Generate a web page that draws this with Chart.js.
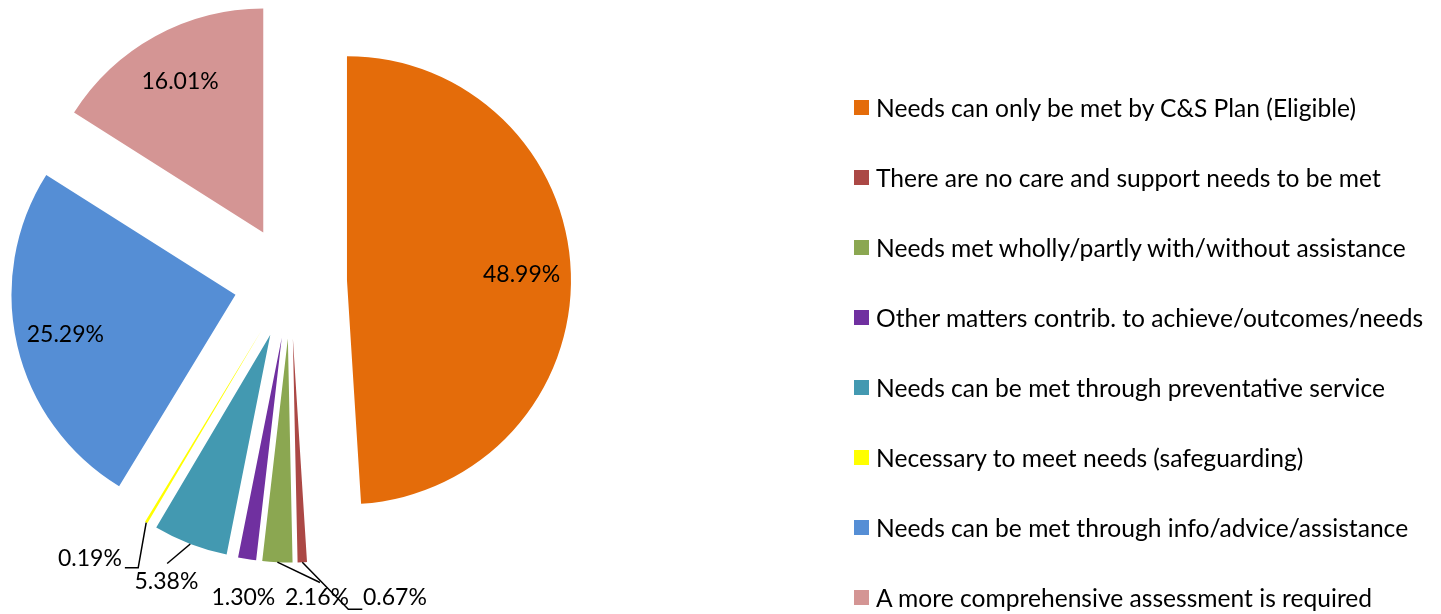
<!DOCTYPE html>
<html>
<head>
<meta charset="utf-8">
<script src="https://cdn.jsdelivr.net/npm/chart.js@4/dist/chart.umd.min.js"></script>
<style>
  html, body { margin: 0; padding: 0; background: #fff; }
  #wrap { position: relative; width: 1441px; height: 614px; overflow: hidden; }
  #assessChart { position: absolute; left: 0; top: 0; }
  #legend-box { position: absolute; left: 854px; top: 72px; font-family: Lato, sans-serif; font-size: 24.6px; color: #000; }
  .legend-item { height: 70px; display: flex; align-items: center; white-space: nowrap; }
  .legend-item span { width: 15px; height: 15px; display: inline-block; margin-right: 7px; }
</style>
</head>
<body>
<div id="wrap">
  <canvas id="assessChart" width="1441" height="614"></canvas>
  <div id="legend-box"></div>
</div>
<script>
// Data
const OUTCOME_LABELS = [
  'Needs can only be met by C&S Plan (Eligible)',
  'There are no care and support needs to be met',
  'Needs met wholly/partly with/without assistance',
  'Other matters contrib. to achieve/outcomes/needs',
  'Needs can be met through preventative service',
  'Necessary to meet needs (safeguarding)',
  'Needs can be met through info/advice/assistance',
  'A more comprehensive assessment is required'
];
const OUTCOME_PCT = [48.99, 0.67, 2.16, 1.30, 5.38, 0.19, 25.29, 16.01];
const OUTCOME_COLORS = ['#E46C0A', '#AB4845', '#8BA751', '#7030A0', '#4399B1', '#FFFF00', '#558ED5', '#D49594'];

// how far every slice is pulled out of the pie (px)
const EXPLODE = 56.5;

// where the % labels go: inside (fraction of radius) or outside (offset from arc edge + leader line)
const LABEL_PLACE = [
  { inside: 0.78 },
  { dx: 92.6, dy: 35.5, leader: [[46, 47], [60, 47]] },
  { dx: 39.6, dy: 35.5, leader: [[42.6, 20.3]] },
  { dx: -3.7, dy: 38.5, leader: [] },
  { dx: -23.9, dy: 37.7, leader: [[-23.1, 19.5]] },
  { dx: -56.3, dy: 36.1, leader: [[-8, 45.3], [-21.3, 45.3]] },
  { inside: 0.78 },
  { inside: 0.77 }
];

// pull each slice out along its middle angle
const explodePlugin = {
  id: 'explode',
  beforeDatasetsDraw(chart) {
    const area = chart.chartArea;
    const cx = (area.left + area.right) / 2;
    const cy = (area.top + area.bottom) / 2;
    chart.getDatasetMeta(0).data.forEach(arc => {
      const mid = (arc.startAngle + arc.endAngle) / 2;
      arc.x = cx + Math.cos(mid) * EXPLODE;
      arc.y = cy + Math.sin(mid) * EXPLODE;
    });
  }
};

// percentage labels + leader lines
const pctLabelPlugin = {
  id: 'pctLabels',
  afterDatasetsDraw(chart) {
    const ctx = chart.ctx;
    const values = chart.data.datasets[0].data;
    ctx.save();
    ctx.font = '23px Lato, sans-serif';
    ctx.fillStyle = '#000';
    ctx.strokeStyle = '#000';
    ctx.lineWidth = 1.5;
    ctx.textAlign = 'center';
    ctx.textBaseline = 'middle';
    chart.getDatasetMeta(0).data.forEach((arc, i) => {
      const place = LABEL_PLACE[i];
      const mid = (arc.startAngle + arc.endAngle) / 2;
      const r = arc.outerRadius;
      const text = values[i].toFixed(2) + '%';
      if (place.inside) {
        ctx.fillText(text, arc.x + Math.cos(mid) * r * place.inside, arc.y + Math.sin(mid) * r * place.inside);
        return;
      }
      const ax = arc.x + Math.cos(mid) * r;
      const ay = arc.y + Math.sin(mid) * r;
      if (place.leader.length) {
        ctx.beginPath();
        ctx.moveTo(ax, ay);
        place.leader.forEach(p => ctx.lineTo(ax + p[0], ay + p[1]));
        ctx.stroke();
      }
      ctx.fillText(text, ax + place.dx, ay + place.dy);
    });
    ctx.restore();
  }
};

const ctx = document.getElementById('assessChart').getContext('2d');
const assessChart = new Chart(ctx, {
  type: 'pie',
  data: {
    labels: OUTCOME_LABELS,
    datasets: [{
      data: OUTCOME_PCT,
      backgroundColor: OUTCOME_COLORS,
      borderWidth: 0,
      radius: 224,
      clip: false
    }]
  },
  options: {
    responsive: false,
    animation: false,
    layout: { padding: { left: 0, top: 0, right: 860, bottom: 50 } },
    plugins: {
      legend: { display: false },
      tooltip: { enabled: false }
    }
  },
  plugins: [explodePlugin, pctLabelPlugin]
});

// Custom legend box
document.getElementById('legend-box').innerHTML = OUTCOME_LABELS.map((lbl, i) => `
  <div class="legend-item"><span style="background:${OUTCOME_COLORS[i]};"></span>${lbl.replace('&', '&amp;')}</div>
`).join('');
</script>
</body>
</html>
